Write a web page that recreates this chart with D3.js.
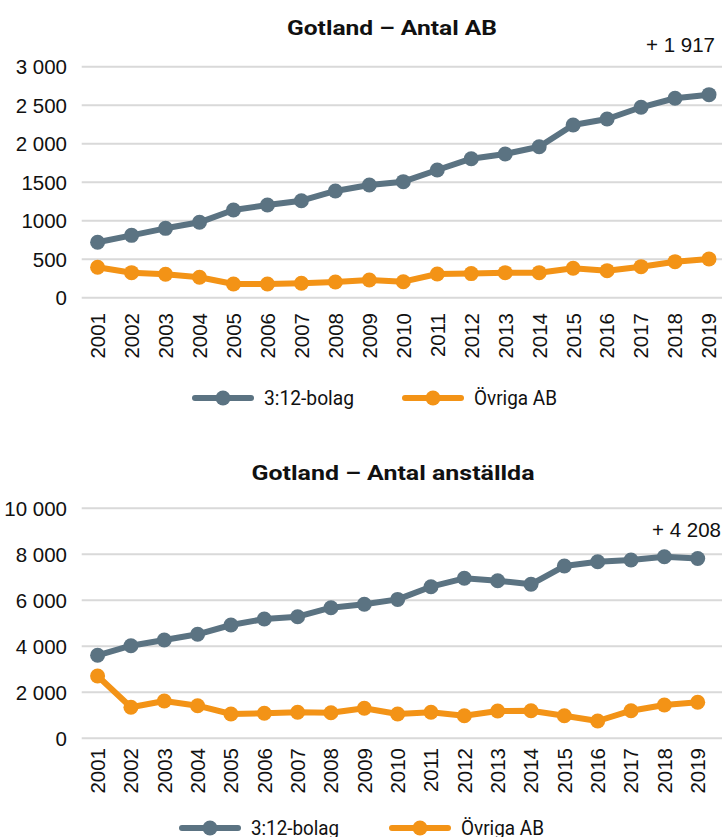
<!DOCTYPE html>
<html><head><meta charset="utf-8">
<script src="https://cdn.jsdelivr.net/npm/d3@7"></script>
<style>
body{margin:0;background:#fff;}
svg{display:block;}
</style></head>
<body>
<svg id="c" width="722" height="837"></svg>
<script>
const years = ["2001","2002","2003","2004","2005","2006","2007","2008","2009","2010","2011","2012","2013","2014","2015","2016","2017","2018","2019"];
const seriesNames = ["3:12-bolag","Övriga AB"];
const colors = ["#5b7382","#f39316"];

// Chart 1 – Antal AB
const ab312    = [720,810,901,979,1139,1204,1260,1386,1464,1507,1658,1805,1866,1961,2243,2321,2473,2590,2637];
const abOvriga = [395,325,304,265,178,178,187,204,230,208,308,313,325,325,382,351,403,468,503];
const abTicks  = [0,500,1000,1500,2000,2500,3000];
const abTickLabels = ["0","500","1000","1500","2 000","2 500","3 000"];

// Chart 2 – Antal anställda
const anst312    = [3610,4026,4274,4522,4926,5187,5287,5678,5826,6040,6591,6957,6852,6696,7491,7678,7752,7896,7818];
const anstOvriga = [2709,1348,1622,1417,1057,1087,1130,1113,1304,1057,1130,983,1187,1200,983,752,1200,1448,1565];
const anstTicks  = [0,2000,4000,6000,8000,10000];
const anstTickLabels = ["0","2 000","4 000","6 000","8 000","10 000"];

const titles = ["Gotland – Antal AB","Gotland – Antal anställda"];
const diffLabels = ["+ 1 917","+ 4 208"];

const svg = d3.select("#c");
const numFont = "'Liberation Sans', Arial, sans-serif";
const txtFont = "Roboto, 'Noto Sans', sans-serif";

function drawChart(cfg){
  const g = svg.append("g");
  const x = d3.scalePoint().domain(years).range(cfg.xr);
  const y = d3.scaleLinear().domain([0, cfg.ticks[cfg.ticks.length-1]]).range(cfg.yr);

  // title
  g.append("text").attr("x", cfg.titleX).attr("y", cfg.titleY)
    .attr("text-anchor","middle").attr("font-family",txtFont).attr("font-weight","bold")
    .attr("font-size",21).attr("fill","#111")
    .attr("textLength", cfg.titleLen).attr("lengthAdjust","spacingAndGlyphs")
    .text(cfg.title);

  // gridlines
  g.append("g").selectAll("line").data(cfg.ticks).join("line")
    .attr("x1", 81.7).attr("x2", 722)
    .attr("y1", d=>y(d)).attr("y2", d=>y(d))
    .attr("stroke","#d9d9d9").attr("stroke-width",2);

  // y tick labels
  g.append("g").selectAll("text").data(cfg.ticks).join("text")
    .attr("x", 67).attr("y", d=>y(d)).attr("dy","0.36em")
    .attr("text-anchor","end").attr("font-family",numFont).attr("font-size",20.5).attr("fill","#111")
    .text((d,i)=>cfg.tickLabels[i]);

  // x labels
  g.append("g").selectAll("text").data(years).join("text")
    .attr("transform", d=>`translate(${x(d)},${cfg.xLabY}) rotate(-90)`)
    .attr("dy","0.36em").attr("text-anchor","end")
    .attr("font-family",numFont).attr("font-size",20.5).attr("fill","#111")
    .text(d=>d);

  // series
  cfg.series.forEach((vals,si)=>{
    const line = d3.line().x((d,i)=>x(years[i])).y(d=>y(d));
    g.append("path").datum(vals).attr("d",line)
      .attr("fill","none").attr("stroke",colors[si]).attr("stroke-width",6)
      .attr("stroke-linejoin","round").attr("stroke-linecap","round");
    g.append("g").selectAll("circle").data(vals).join("circle")
      .attr("cx",(d,i)=>x(years[i])).attr("cy",d=>y(d)).attr("r",7.5)
      .attr("fill",colors[si]);
  });

  // diff label
  g.append("text").attr("x", cfg.diffX).attr("y", cfg.diffY)
    .attr("text-anchor","end").attr("font-family",numFont).attr("font-size",20.5).attr("fill","#111")
    .text(cfg.diff);

  // legend
  const lg = g.append("g");
  seriesNames.forEach((name,si)=>{
    const lx = cfg.legX[si];
    lg.append("line").attr("x1",lx).attr("x2",lx+56).attr("y1",cfg.legY).attr("y2",cfg.legY)
      .attr("stroke",colors[si]).attr("stroke-width",6).attr("stroke-linecap","round");
    lg.append("circle").attr("cx",lx+28).attr("cy",cfg.legY).attr("r",7.5).attr("fill",colors[si]);
    lg.append("text").attr("x",lx+69).attr("y",cfg.legY).attr("dy","0.36em")
      .attr("font-family",txtFont).attr("font-size",20).attr("fill","#111")
      .attr("textLength", cfg.legLen[si]).attr("lengthAdjust","spacingAndGlyphs")
      .text(name);
  });
}

drawChart({
  title: titles[0], titleX: 392, titleY: 35, titleLen: 210,
  xr:[97.6,709], yr:[297.7,66.7], ticks:abTicks, tickLabels:abTickLabels,
  xLabY:313, series:[ab312,abOvriga], diff:diffLabels[0], diffX:715, diffY:51.7,
  legX:[195,405], legY:398, legLen:[90,83]
});
drawChart({
  title: titles[1], titleX: 393, titleY: 479.5, titleLen: 283,
  xr:[97.6,697.7], yr:[738.3,508.3], ticks:anstTicks, tickLabels:anstTickLabels,
  xLabY:748, series:[anst312,anstOvriga], diff:diffLabels[1], diffX:721, diffY:537,
  legX:[182,392], legY:828, legLen:[88,83]
});
</script>
</body></html>
